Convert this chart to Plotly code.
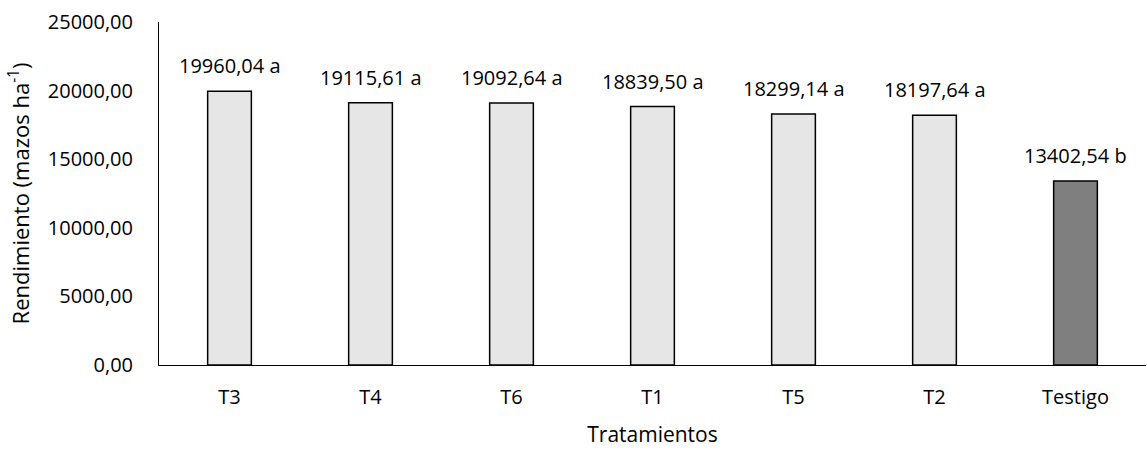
import plotly.graph_objects as go

# Rendimiento por tratamiento
tratamientos = ["T3", "T4", "T6", "T1", "T5", "T2", "Testigo"]
rendimiento = [19960.04, 19115.61, 19092.64, 18839.50, 18299.14, 18197.64, 13402.54]
letras = ["a", "a", "a", "a", "a", "a", "b"]
y_ticks = [0, 5000, 10000, 15000, 20000, 25000]

colores = ["#e6e6e6"] * 6 + ["#7f7f7f"]
etiquetas = [f"{v:.2f}".replace(".", ",") + " " + l for v, l in zip(rendimiento, letras)]

FONT = "Open Sans"

fig = go.Figure(
    go.Bar(
        x=tratamientos,
        y=rendimiento,
        marker=dict(color=colores, line=dict(color="#000000", width=1.5)),
        width=0.31,
    )
)

# Etiquetas de valor con la letra de significancia sobre cada barra
for cat, val, txt in zip(tratamientos, rendimiento, etiquetas):
    fig.add_annotation(
        x=cat, y=val, text=txt, showarrow=False,
        xanchor="center", yanchor="bottom", yshift=10,
        font=dict(family=FONT, size=20, color="#000000"),
    )

fig.update_layout(
    width=1147,
    height=450,
    margin=dict(l=159, r=1, t=22, b=85),
    paper_bgcolor="white",
    plot_bgcolor="white",
    separators=",.",
    showlegend=False,
    font=dict(family=FONT, size=20, color="#000000"),
    xaxis=dict(
        showline=True,
        linecolor="#000000",
        linewidth=1,
        showgrid=False,
        ticks="",
        ticklabelstandoff=14,
        tickfont=dict(family=FONT, size=20),
        title=dict(text="Tratamientos", font=dict(family=FONT, size=21), standoff=18),
    ),
    yaxis=dict(
        range=[0, 25000],
        tickvals=y_ticks,
        tickformat=".2f",
        showline=True,
        linecolor="#000000",
        linewidth=1,
        showgrid=False,
        zeroline=False,
        ticks="",
        ticklabelstandoff=21,
        tickfont=dict(family=FONT, size=20),
        title=dict(text="Rendimiento (mazos ha<sup>-1</sup>)", font=dict(family=FONT, size=22), standoff=12),
    ),
)

fig.write_html("out.html")
